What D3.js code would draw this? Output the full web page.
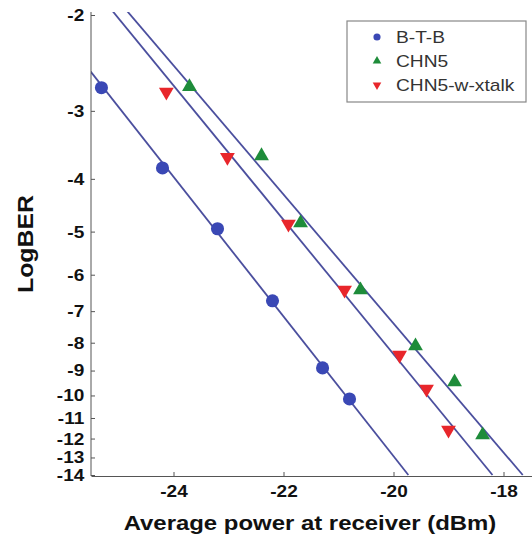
<!DOCTYPE html>
<html>
<head>
<meta charset="utf-8">
<script src="https://cdn.jsdelivr.net/npm/d3@7"></script>
<style>
body { margin: 0; background: #fff; }
text { font-family: Arial, "Liberation Sans", Helvetica, sans-serif; }
</style>
</head>
<body>
<div id="chart"></div>
<script>
// values: received power (dBm) vs LogBER
var seriesNames = ['B-T-B', 'CHN5', 'CHN5-w-xtalk'];

var btbPower = [-25.31, -24.2, -23.2, -22.2, -21.29, -20.8];
var btbBER   = [-2.72, -3.82, -4.94, -6.7, -8.9, -10.15];

var chn5Power = [-23.71, -22.4, -21.69, -20.6, -19.6, -18.89, -18.38];
var chn5BER   = [-2.71, -3.63, -4.82, -6.4, -8.11, -9.45, -11.82];

var xtalkPower = [-24.13, -23.02, -21.91, -20.89, -19.89, -19.4, -19.0];
var xtalkBER   = [-2.77, -3.65, -4.84, -6.4, -8.43, -9.73, -11.57];

// fitted straight lines (two end points each)
var fitPower = [[-26.49, -19.73], [-24.97, -17.65], [-25.23, -18.2]];
var fitBER   = [[-1.9, -14], [-1.9, -14], [-1.9, -14]];

var xTicks = [-24, -22, -20, -18];
var yTicks = [-2, -3, -4, -5, -6, -7, -8, -9, -10, -11, -12, -13, -14];

var width   = 532,
    height  = 540,
    left    = 91,
    bottom  = 476,
    plotTop = 12;

var colors  = ['#3a48b5', '#1e8c3a', '#e8262b'];
var symbols = [d3.symbolCircle, d3.symbolTriangle, d3.symbolTriangle];
var lineColor = '#4b4f9e';

var xScale = d3.scaleLinear()
    .domain([-25.5, -17.05])
    .range([left, left + 8.45 * 55]);

// BER axis is log(-log BER)
var yScale = d3.scaleLog()
    .domain([2, 14])
    .range([15, 475]);

function yPos(v) { return yScale(-v); }

var svg = d3.select('#chart').append('svg')
    .attr('width', width)
    .attr('height', height)
    .style('background', '#fff');

svg.append('defs').append('clipPath').attr('id', 'plotclip')
    .append('rect')
    .attr('x', left).attr('y', plotTop)
    .attr('width', width - left).attr('height', bottom - plotTop);

// fit lines
var lineGen = d3.line()
    .x(function(d) { return xScale(d[0]); })
    .y(function(d) { return yPos(d[1]); });

svg.append('g').attr('clip-path', 'url(#plotclip)')
    .selectAll('path').data(fitPower)
    .enter().append('path')
    .attr('d', function(d, i) {
        return lineGen(d.map(function(p, j) { return [p, fitBER[i][j]]; }));
    })
    .attr('fill', 'none')
    .attr('stroke', lineColor)
    .attr('stroke-width', 1.8);

// markers
var series = [
    { power: btbPower,   ber: btbBER },
    { power: chn5Power,  ber: chn5BER },
    { power: xtalkPower, ber: xtalkBER }
];

series.forEach(function(s, i) {
    var sym = d3.symbol().type(symbols[i]).size(i == 0 ? 135 : 95);
    svg.append('g').selectAll('path').data(s.power)
        .enter().append('path')
        .attr('d', sym)
        .attr('transform', function(d, j) {
            return 'translate(' + xScale(d) + ',' + yPos(s.ber[j]) + ')' + (i == 2 ? ' rotate(180)' : '');
        })
        .attr('fill', colors[i]);
});

// axes
var xAxis = d3.axisBottom(xScale)
    .tickValues(xTicks)
    .tickFormat(function(d) { return d; })
    .tickSizeInner(-4)
    .tickSizeOuter(0)
    .tickPadding(9);

var yAxis = d3.axisLeft(yScale)
    .tickValues(yTicks.map(function(d) { return -d; }))
    .tickFormat(function(d) { return '-' + d; })
    .tickSizeInner(-4)
    .tickSizeOuter(0)
    .tickPadding(6);

var gx = svg.append('g')
    .attr('transform', 'translate(0,' + bottom + ')')
    .call(xAxis);

var gy = svg.append('g')
    .attr('transform', 'translate(' + left + ',0)')
    .call(yAxis);

gy.select('.domain').attr('d', 'M0,' + plotTop + 'V' + bottom);

[gx, gy].forEach(function(g) {
    g.selectAll('.domain, line').attr('stroke', '#555');
    g.selectAll('text')
        .attr('font-family', 'Arial, "Liberation Sans", sans-serif')
        .attr('font-size', 17)
        .attr('font-weight', 'bold')
        .attr('fill', '#111')
        .attr('transform', 'scale(1.12,1)');
});

// axis titles
svg.append('text')
    .attr('transform', 'translate(310,530) scale(1.14,1)')
    .attr('text-anchor', 'middle')
    .attr('font-size', 21)
    .attr('font-weight', 'bold')
    .attr('fill', '#111')
    .text('Average power at receiver (dBm)');

svg.append('text')
    .attr('transform', 'translate(33,244) rotate(-90) scale(1.13,1)')
    .attr('text-anchor', 'middle')
    .attr('font-size', 22)
    .attr('font-weight', 'bold')
    .attr('fill', '#111')
    .text('LogBER');

// legend
var legend = svg.append('g');

legend.append('rect')
    .attr('x', 347).attr('y', 21)
    .attr('width', 179).attr('height', 81)
    .attr('fill', '#fff')
    .attr('stroke', '#888')
    .attr('stroke-width', 1.2);

var items = legend.selectAll('g.item').data(seriesNames)
    .enter().append('g')
    .attr('class', 'item')
    .attr('transform', function(d, i) { return 'translate(377,' + (37 + i * 24) + ')'; });

items.append('path')
    .attr('d', function(d, i) { return d3.symbol().type(symbols[i]).size(i == 0 ? 40 : 32)(); })
    .attr('transform', function(d, i) { return i == 2 ? 'rotate(180)' : null; })
    .attr('fill', function(d, i) { return colors[i]; });

items.append('text')
    .attr('transform', 'translate(19,6) scale(1.2,1)')
    .attr('font-size', 16)
    .attr('fill', '#333')
    .text(function(d) { return d; });
</script>
</body>
</html>
